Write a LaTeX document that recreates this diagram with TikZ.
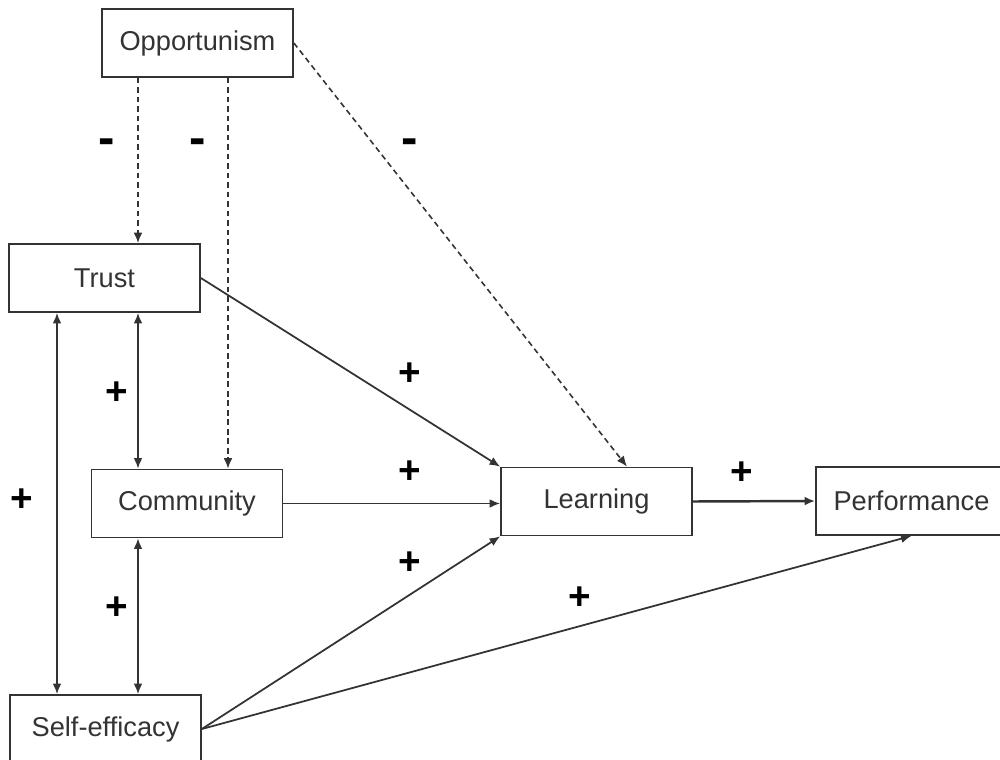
\documentclass[tikz,border=0pt]{standalone}
\usepackage{fontspec}
\setmainfont{Liberation Sans}
\usetikzlibrary{arrows.meta}
\definecolor{ink}{HTML}{333333}
\tikzset{
  box/.style={draw=ink, line width=1pt, rectangle, minimum width=3.82cm, minimum height=1.36cm,
    text=ink, font=\fontsize{15.5}{18}\selectfont},
  sign/.style={font=\bfseries\fontsize{22}{24}\selectfont, text=black},
  minus/.style={font=\bfseries\fontsize{28}{30}\selectfont, text=black},
  link/.style={draw=ink, line width=1pt, ->},
  both/.style={draw=ink, line width=1pt, <->},
  neg/.style={link, line width=0.9pt, dash pattern=on 3.2pt off 2.2pt},
}

\begin{document}
\begin{tikzpicture}[x=0.02cm, y=-0.02cm, >={Latex[length=6pt,width=5pt]}]
  \useasboundingbox (0,0) rectangle (1000,760);
  % constructs
  \node [box] (opp)   at (197.5,43)  {Opportunism};
  \node [box] (trust) at (104.5,278) {Trust};
  \node [box] (comm)  at (187,503.5) {Community};
  \node [box] (learn) at (596.5,501.5) {Learning};
  \node [box] (perf)  at (911.5,501) {Performance};
  \node [box] (self)  at (105.5,729) {Self-efficacy};
  % vertical columns
  \coordinate (ca) at (138,0);
  \coordinate (cb) at (228,0);
  \coordinate (cc) at (57,0);
  % negative paths
  \draw [neg] (opp.south -| ca) -- (trust.north -| ca);
  \draw [neg] (opp.south -| cb) -- (comm.north -| cb);
  \draw [neg] (opp.east) -- ([xshift=0.61cm]learn.north);
  % positive paths
  \draw [link] (trust.east) -- (learn.north west);
  \draw [link] (comm.east) -- (comm.east -| learn.west);
  \draw [link] (self.east) -- (learn.south west);
  \draw [link] (self.east) -- (perf.south);
  \draw [link, line width=1.4pt] (learn.east) -- (perf.west);
  \draw [both] (trust.south -| ca) -- (comm.north -| ca);
  \draw [both] (comm.south -| ca) -- (self.north -| ca);
  \draw [both] (trust.south -| cc) -- (self.north -| cc);
  % signs
  \node [minus] (m1) at (107,147) {-};
  \node [minus] (m2) at (198,147) {-};
  \node [minus] (m3) at (410,147) {-};
  \node [sign] (p1) at (117,393) {+};
  \node [sign] (p2) at (22,500)  {+};
  \node [sign] (p3) at (117,608) {+};
  \node [sign] (p4) at (410,374) {+};
  \node [sign] (p5) at (410,472) {+};
  \node [sign] (p6) at (410,563) {+};
  \node [sign] (p7) at (580,598) {+};
  \node [sign] (p8) at (742,473) {+};
\end{tikzpicture}
\end{document}
